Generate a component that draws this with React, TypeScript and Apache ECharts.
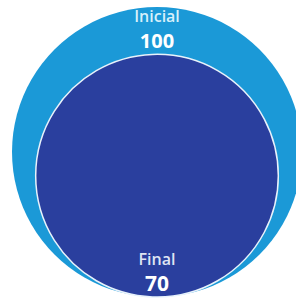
import React, { useEffect, useRef } from "react";
import * as echarts from "echarts";

const categories = ["Inicial", "Final"];
const values = [100, 70];
const colors = ["#1b99d7", "#2a3f9e"];

export default function App() {
  const ref = useRef<HTMLDivElement>(null);
  useEffect(() => {
    document.body.style.margin = "0";
    const chart = echarts.init(ref.current!, null, { renderer: "svg" });
    const maxV = Math.max(...values);
    const maxR = 145; // data units for the largest circle
    chart.setOption({
      animation: false,
      grid: { left: 0, right: 0, top: 0, bottom: 0 },
      xAxis: { type: "value", min: 0, max: 296, show: false },
      yAxis: { type: "value", min: 0, max: 299, show: false },
      series: [
        {
          type: "custom",
          coordinateSystem: "cartesian2d",
          data: categories.map((c, i) => [i, values[i]]),
          renderItem: (params: any, api: any) => {
            const i = api.value(0);
            const v = api.value(1);
            const rData = maxR * Math.sqrt(v / maxV);
            const cx = 157;
            const baseY = 2;
            const center = api.coord([cx, baseY + rData]);
            const r = api.size([rData, 0])[0];
            const top = center[1] - r;
            const bottom = center[1] + r;
            const isOuter = i === 0;
            const l1y = isOuter ? top + 9 : bottom - 38;
            const l2y = isOuter ? top + 33 : bottom - 14;
            return {
              type: "group",
              children: [
                {
                  type: "circle",
                  shape: { cx: center[0], cy: center[1], r },
                  style: {
                    fill: colors[i],
                    stroke: isOuter ? "none" : "#e8f2fb",
                    lineWidth: isOuter ? 0 : 1.5,
                  },
                },
                {
                  type: "text",
                  x: center[0],
                  y: l1y,
                  style: {
                    text: categories[i],
                    fill: isOuter ? "#d6f0fb" : "#dfe4f3",
                    font: '600 16px "Open Sans", sans-serif',
                    align: "center",
                    verticalAlign: "middle",
                  },
                },
                {
                  type: "text",
                  x: center[0],
                  y: l2y,
                  style: {
                    text: String(v),
                    fill: "#ffffff",
                    font: isOuter
                      ? 'bold 20px "Open Sans", sans-serif'
                      : 'bold 21px "Open Sans", sans-serif',
                    align: "center",
                    verticalAlign: "middle",
                  },
                },
              ],
            };
          },
        },
      ],
    });
    return () => chart.dispose();
  }, []);
  return <div ref={ref} style={{ width: 296, height: 299 }} />;
}
